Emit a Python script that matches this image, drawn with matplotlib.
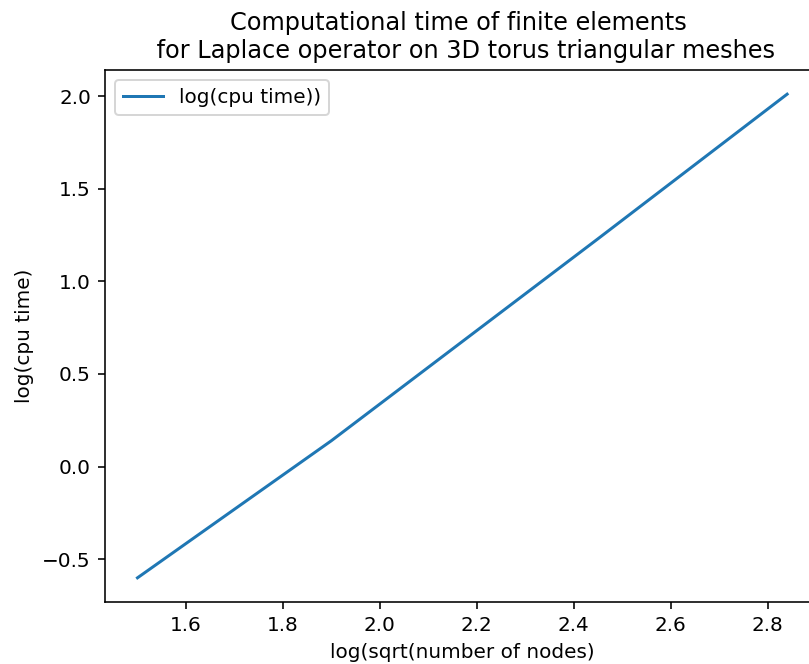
import numpy as np
import matplotlib
matplotlib.use('Agg')
import matplotlib.pyplot as plt

# log(sqrt(number of nodes)) and log(cpu time)
log_sqrt_nodes = [1.50, 1.90, 2.45, 2.84]
log_cpu_time = [-0.60, 0.14, 1.23, 2.01]

fig = plt.figure(figsize=(809/144, 664/144), dpi=144)
ax = fig.add_axes([105/809, 62/664, 714.6/809, 532/664])

ax.plot(log_sqrt_nodes, log_cpu_time, label='log(cpu time))')
ax.set_title('Computational time of finite elements \n for Laplace operator on 3D torus triangular meshes')
ax.set_xlabel('log(sqrt(number of nodes)')
ax.set_ylabel('log(cpu time)')
ax.legend(loc='upper left')

fig.savefig('out.png', dpi=144)
